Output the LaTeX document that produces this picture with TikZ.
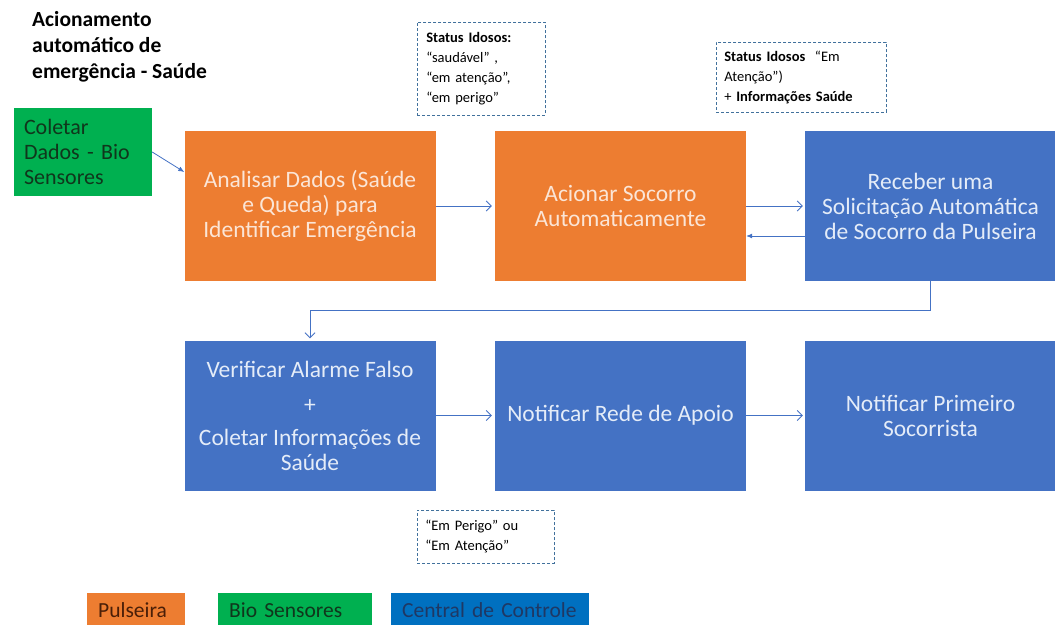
\documentclass[tikz,border=0pt]{standalone}
\usepackage{fontspec}
\setmainfont{Carlito}
\usetikzlibrary{arrows.meta,positioning}
\definecolor{PulseOrange}{HTML}{ED7D31}
\definecolor{SensorGreen}{HTML}{00B050}
\definecolor{CentralBlue}{HTML}{4472C4}
\definecolor{LegendBlue}{HTML}{0070C0}
\definecolor{DashBlue}{HTML}{41719C}
\definecolor{OrangeText}{HTML}{FBE5D6}
\definecolor{BlueText}{HTML}{E4ECF8}
\definecolor{DarkGreenText}{HTML}{10361C}
\definecolor{DarkBrownText}{HTML}{4A1F08}
\definecolor{DarkBlueText}{HTML}{1F3864}

\begin{document}
\begin{tikzpicture}[x=1pt, y=-1pt,
  procbox/.style={minimum width=251pt, minimum height=150pt, align=center,
    inner sep=4pt, font=\fontsize{23.5}{25}\selectfont},
  pulsebox/.style={procbox, fill=PulseOrange, text=OrangeText},
  centralbox/.style={procbox, fill=CentralBlue, text=BlueText},
  notebox/.style={draw=DashBlue, dash pattern=on 3pt off 2pt, line width=0.6pt,
    align=left, anchor=north west, inner ysep=0pt, font=\fontsize{14.5}{20}\selectfont},
  legendbox/.style={anchor=north west, align=left, inner xsep=11pt,
    minimum height=33pt, font=\fontsize{21.5}{22}\selectfont},
  flow/.style={draw=CentralBlue, line width=0.8pt, -{Straight Barb[length=5pt,width=10pt]}},
  backflow/.style={draw=CentralBlue, line width=0.8pt, -{Latex[length=6pt,width=5pt]}},
]

% frame of the slide
\useasboundingbox (0,0) rectangle (1055,624);

% title
\node[anchor=west, align=left, inner sep=0pt, font=\bfseries\fontsize{21.5}{26}\selectfont]
  (title) at (32,47) {Acionamento\\automático de\\emergência - Saúde};

% bio sensors
\node[fill=SensorGreen, text=DarkGreenText, minimum width=138pt, minimum height=88pt,
  text width=118pt, inner xsep=10pt, align=left, font=\fontsize{22}{25}\selectfont]
  (coleta) at (83,152) {Coletar\\Dados - Bio\\Sensores};

% first row
\node[pulsebox]   (analisar) at (310,206)   {Analisar Dados (Saúde\\e Queda) para\\Identificar Emergência};
\node[pulsebox]   (acionar)  at (620.5,206) {Acionar Socorro\\Automaticamente};
\node[centralbox] (receber)  at (930.5,206) {Receber uma\\Solicitação Automática\\de Socorro da Pulseira};

% second row
\node[centralbox] (verificar) at (310,415.5)
  {Verificar Alarme Falso\\[10pt]+\\[8pt]Coletar Informações de\\Saúde};
\node[centralbox] (rede)      at (620.5,415.5) {Notificar Rede de Apoio};
\node[centralbox] (primeiro)  at (930.5,415.5) {Notificar Primeiro\\Socorrista};

% status notes
\node[notebox, text width=110pt, inner xsep=9pt, minimum height=93pt] (statusA) at (417,22)
  {\textbf{Status Idosos:}\\“saudável” ,\\“em atenção”,\\“em perigo”};
\node[notebox, text width=154pt, inner xsep=8pt, minimum height=70pt] (statusB) at (716,42)
  {\textbf{Status Idosos} \ “Em\\Atenção”)\\+ \textbf{Informações Saúde}};
\node[notebox, text width=121pt, inner xsep=8pt, minimum height=53pt] (statusC) at (417,510)
  {“Em Perigo” ou\\“Em Atenção”};

% connectors
\draw[backflow] (coleta.east) -- ([yshift=34pt]analisar.west);
\draw[flow] (analisar.east) -- ([xshift=-3pt]acionar.west);
\draw[flow] (acionar.east) -- ([xshift=-2pt]receber.west);
\draw[backflow] ([yshift=-30pt]receber.west) -- ([yshift=-30pt]acionar.east);
\draw[flow] (receber.south) -- ++(0,29) -| ([yshift=2pt]verificar.north);
\draw[flow] (verificar.east) -- ([xshift=-3pt]rede.west);
\draw[flow] (rede.east) -- ([xshift=-2pt]primeiro.west);

% legend
\node[legendbox, fill=PulseOrange, text=DarkBrownText, text width=76pt] (legPulse) at (87,593) {Pulseira};
\node[legendbox, fill=SensorGreen, text=DarkGreenText, text width=132pt] (legBio) at (218,593) {Bio Sensores};
\node[legendbox, fill=LegendBlue, text=DarkBlueText, text width=176pt] (legCentral) at (391,593) {Central de Controle};

\end{tikzpicture}
\end{document}
